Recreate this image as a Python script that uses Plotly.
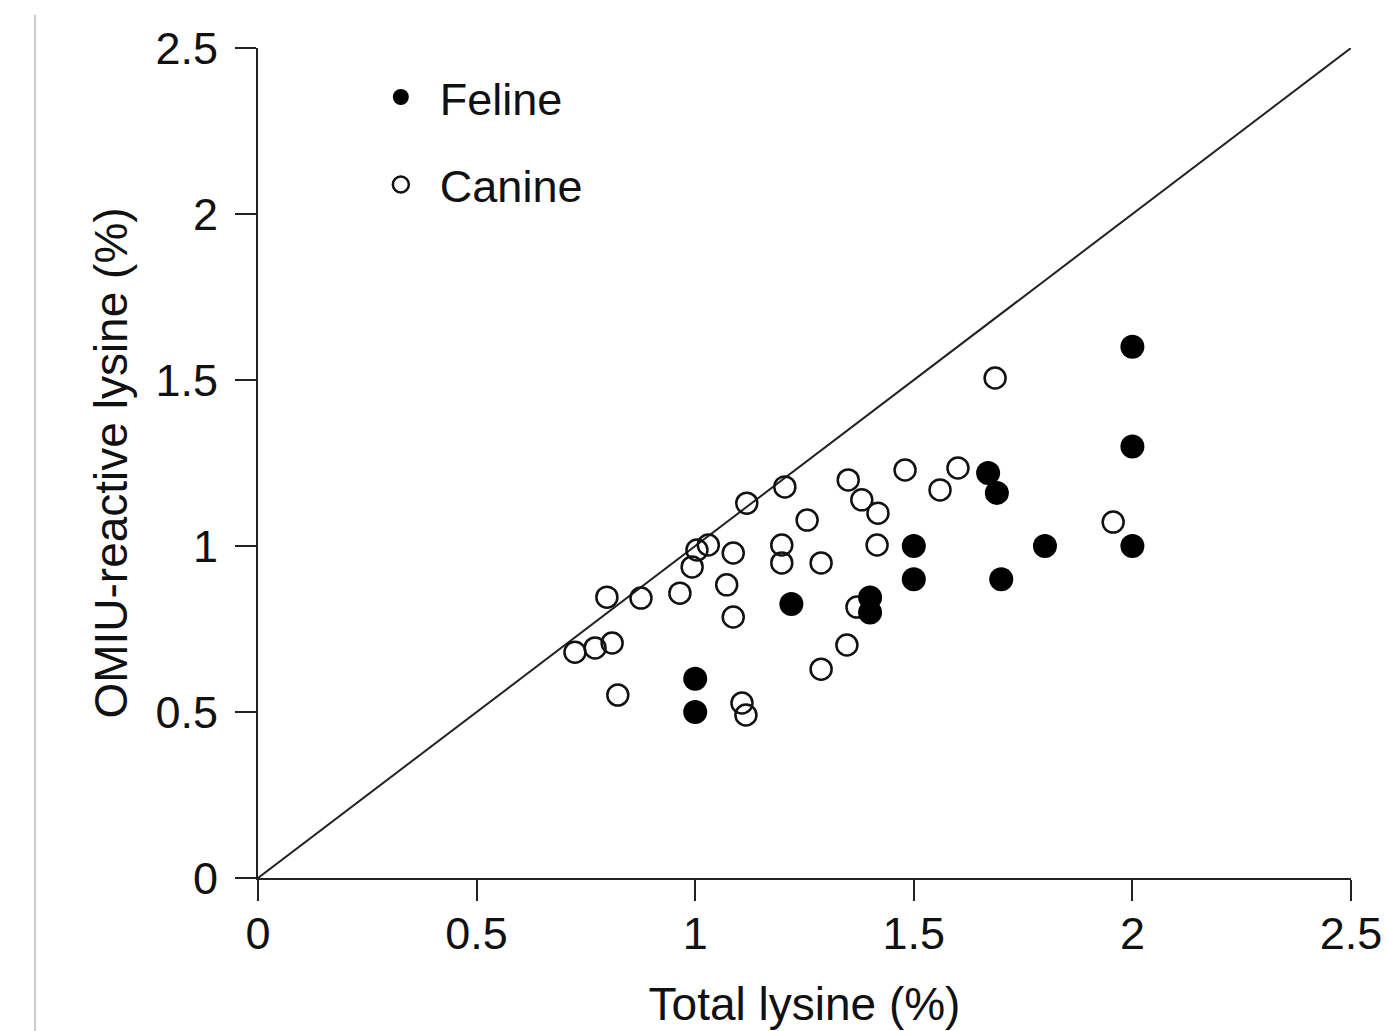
import plotly.graph_objects as go

# Feline (filled)
feline_total = [1.00, 1.00, 1.22, 1.40, 1.40, 1.50, 1.50, 1.67, 1.69, 1.70, 1.80, 2.00, 2.00, 2.00]
feline_omiu = [0.60, 0.50, 0.825, 0.845, 0.80, 1.00, 0.90, 1.22, 1.16, 0.90, 1.00, 1.60, 1.30, 1.00]

# Canine (open)
canine_total = [0.725, 0.771, 0.81, 0.823, 0.798, 0.876, 0.965, 0.993, 1.004, 1.03, 1.087,
                1.072, 1.087, 1.118, 1.205, 1.198, 1.198, 1.256, 1.288, 1.107, 1.116, 1.288,
                1.347, 1.35, 1.381, 1.418, 1.416, 1.37, 1.48, 1.56, 1.601, 1.686, 1.956]
canine_omiu = [0.68, 0.693, 0.708, 0.551, 0.846, 0.843, 0.858, 0.937, 0.988, 1.003, 0.979,
               0.883, 0.786, 1.129, 1.178, 1.003, 0.949, 1.078, 0.949, 0.527, 0.491, 0.629,
               0.702, 1.199, 1.139, 1.099, 1.003, 0.816, 1.229, 1.169, 1.235, 1.506, 1.072]

identity_line = [0, 2.5]
tick_vals = [0, 0.5, 1, 1.5, 2, 2.5]
tick_text = ["0", "0.5", "1", "1.5", "2", "2.5"]

FONT = "Liberation Sans, Arial, sans-serif"

fig = go.Figure()
fig.add_trace(go.Scatter(x=identity_line, y=identity_line, mode="lines",
                         line=dict(color="#222", width=2), showlegend=False,
                         hoverinfo="skip"))
fig.add_trace(go.Scatter(x=canine_total, y=canine_omiu, mode="markers", name="Canine",
                         legendgroup="c", legendrank=2,
                         marker=dict(symbol="circle", size=21, color="rgba(255,255,255,0)",
                                     line=dict(color="#111", width=2.5))))
fig.add_trace(go.Scatter(x=feline_total, y=feline_omiu, mode="markers", name="Feline",
                         legendgroup="f", legendrank=1,
                         marker=dict(symbol="circle", size=24, color="#000",
                                     line=dict(width=0))))

axis_common = dict(range=[0, 2.5], tickvals=tick_vals, ticktext=tick_text,
                   showline=True, linecolor="#222", linewidth=2,
                   ticks="outside", ticklen=21, tickwidth=2, tickcolor="#222",
                   showgrid=False, zeroline=False, automargin=False,
                   tickfont=dict(family=FONT, size=45, color="#111"))

fig.update_layout(
    width=1388, height=1031,
    margin=dict(l=258, r=37, t=48, b=153),
    paper_bgcolor="white", plot_bgcolor="white",
    font=dict(family=FONT, color="#111"),
    xaxis=dict(**axis_common, ticklabelstandoff=-6, ticklabeloverflow="allow",
               title=dict(text="Total lysine (%)", font=dict(family=FONT, size=46), standoff=30)),
    yaxis=dict(**axis_common, ticklabelstandoff=8,
               title=dict(text="OMIU-reactive lysine (%)", font=dict(family=FONT, size=46), standoff=13)),
    legend=dict(x=0.095, y=0.984, xanchor="left", yanchor="top",
                traceorder="grouped", tracegroupgap=26, itemwidth=68,
                font=dict(family=FONT, size=45, color="#111"),
                bgcolor="rgba(0,0,0,0)"),
    shapes=[dict(type="line", xref="paper", yref="paper",
                 x0=-0.204, x1=-0.204, y0=1.04, y1=-0.2,
                 line=dict(color="#cccccc", width=2))],
)

fig.write_html("out.html")
